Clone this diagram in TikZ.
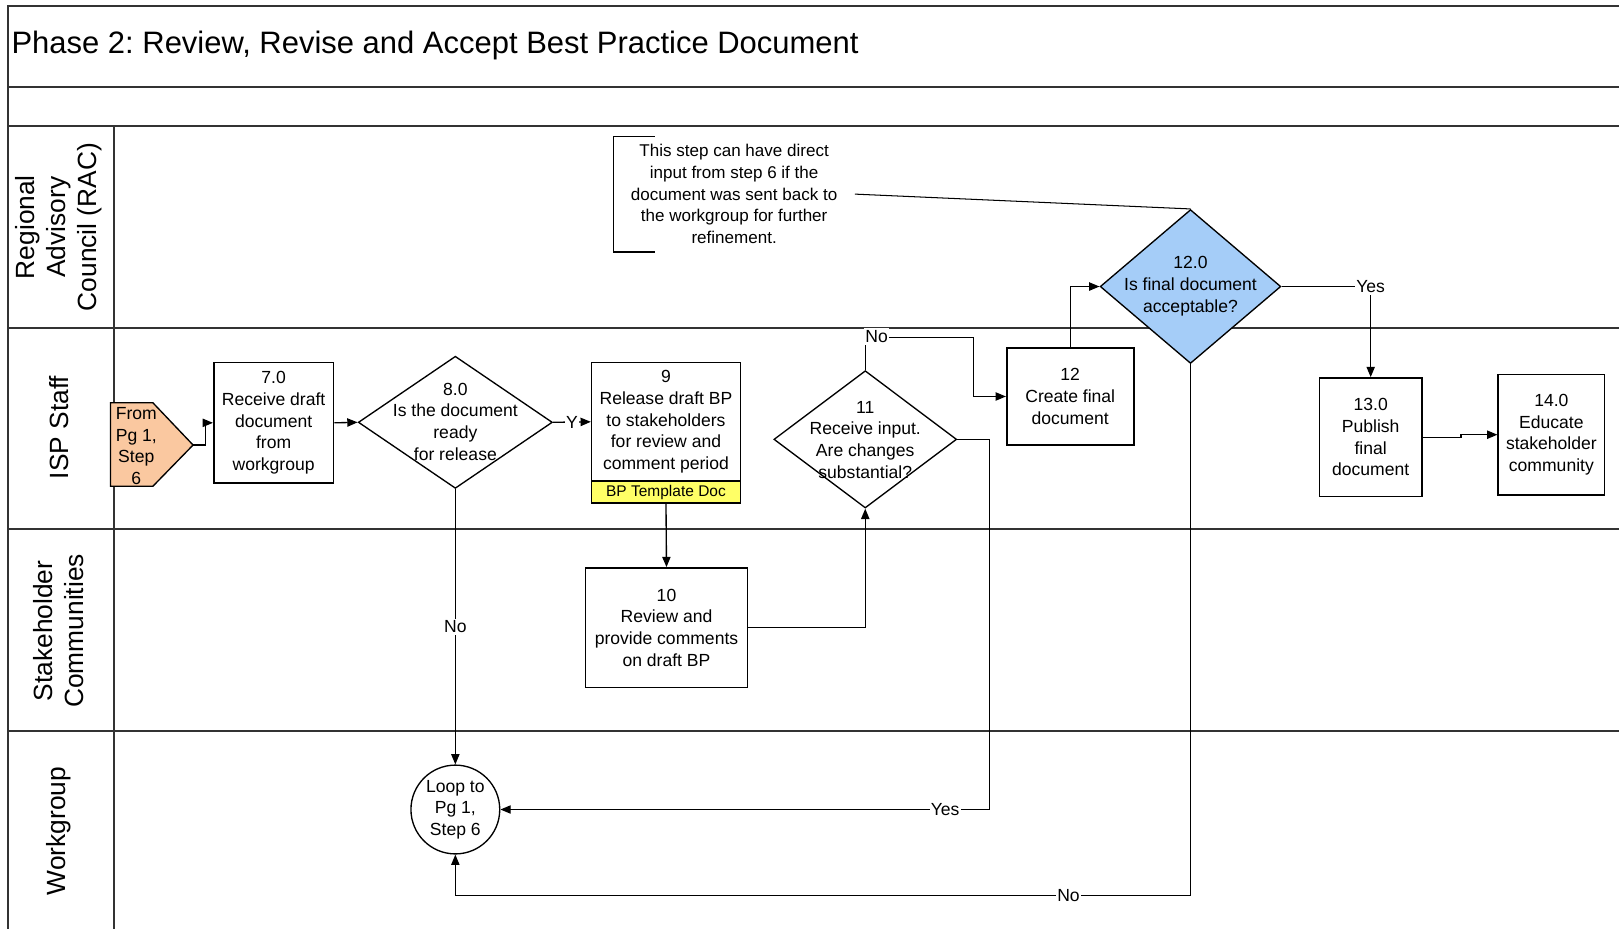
\documentclass[tikz,border=0pt]{standalone}
\usepackage{fontspec}
\setmainfont{Liberation Sans}
\usetikzlibrary{arrows.meta,shapes.geometric}
\definecolor{peach}{RGB}{250,200,160}
\definecolor{bluefill}{RGB}{165,205,248}
\definecolor{tmpl}{RGB}{255,255,102}
\frenchspacing
\begin{document}
\begin{tikzpicture}[x=1pt,y=-1pt,
  frame/.style={line width=1.8pt, draw=black!80},
  conn/.style={line width=1.3pt, -{Triangle[length=10pt,width=8pt]}},
  plainline/.style={line width=1.3pt},
  box/.style={draw, line width=1.5pt, fill=white, align=center, inner sep=0pt, font=\fontsize{17}{21}\selectfont},
  dia/.style={draw, diamond, line width=1.3pt, fill=white, inner sep=0pt},
  dtext/.style={align=center, inner sep=0pt, font=\fontsize{17}{21}\selectfont},
  lbl/.style={fill=white, inner xsep=1pt, inner ysep=2pt, font=\fontsize{17}{21}\selectfont},
  lane/.style={rotate=90, align=center, font=\fontsize{25.5}{30}\selectfont},
]
\path[use as bounding box, fill=white] (0,0) rectangle (1568,900);

% frame and swimlanes
\draw[frame] (1568,6) -- (8,6) -- (8,900);
\draw[frame] (8,84) -- (1568,84);
\draw[frame] (8,122) -- (1568,122);
\draw[frame] (8,318) -- (1568,318);
\draw[frame] (8,512) -- (1568,512);
\draw[frame] (8,708) -- (1568,708);
\draw[frame] (110,122) -- (110,900);

\node[anchor=west, inner sep=0pt, font=\fontsize{30}{36}\selectfont] (title) at (11,44) {Phase 2: Review, Revise and Accept Best Practice Document};

\node[lane] (lrac) at (57,220) {Regional\\Advisory\\Council (RAC)};
\node[lane] (lisp) at (57,414) {ISP Staff};
\node[lane] (lsc) at (57,611) {Stakeholder\\Communities};
\node[lane] (lwg) at (57,805) {Workgroup};

% annotation
\draw[plainline] (634,132) -- (594,132) -- (594,244) -- (634,244);
\node[align=center, inner sep=0pt, font=\fontsize{16.5}{21}\selectfont] (note) at (711,188) {This step can have direct\\input from step 6 if the\\document was sent back to\\the workgroup for further\\refinement.};
\coordinate (notelink) at (828,188);

% off-page connector
\draw[line width=1.3pt, fill=peach] (107,390) -- (148,390) -- (187,431) -- (148,471) -- (107,471) -- cycle;
\coordinate (fromtip) at (187,431);
\node[dtext] (fromtxt) at (132,432) {From\\Pg 1,\\Step\\6};

% process nodes
\node[box, minimum width=116pt, minimum height=117pt] (b7) at (265,409.5) {7.0\\Receive draft\\document\\from\\workgroup};

\node[dia, minimum width=188pt, minimum height=128pt] (d8) at (441,409) {};
\node[dtext] (d8t) at (441,408.5) {8.0\\Is the document\\ready\\for release};

\node[box, minimum width=144pt, minimum height=115pt] (b9) at (645,408.5) {9\\Release draft BP\\to stakeholders\\for review and\\comment period};
\node[box, fill=tmpl, minimum width=144pt, minimum height=21pt, font=\fontsize{15}{18}\selectfont] (b9doc) at (645,476.5) {BP Template Doc};

\node[box, minimum width=157pt, minimum height=116pt] (b10) at (645.5,608) {10\\Review and\\provide comments\\on draft BP};

\node[dia, minimum width=177pt, minimum height=133pt] (d11) at (838,425.5) {};
\node[dtext] (d11t) at (838,426) {11\\Receive input.\\Are changes\\substantial?};

\node[box, minimum width=123pt, minimum height=94pt] (b12) at (1036.5,384) {12\\Create final\\document};

\node[dia, fill=bluefill, minimum width=175pt, minimum height=149pt] (d12) at (1153,277.5) {};
\node[dtext] (d12t) at (1153,277) {12.0\\Is final document\\acceptable?};

\node[box, minimum width=99pt, minimum height=115pt] (b13) at (1327.5,423.5) {13.0\\Publish\\final\\document};
\node[box, minimum width=103pt, minimum height=117pt] (b14) at (1502.5,421) {14.0\\Educate\\stakeholder\\community};

\node[draw, circle, line width=1.3pt, fill=white, minimum size=86pt, inner sep=0pt, align=center, font=\fontsize{17}{21}\selectfont] (loop) at (441,784) {Loop to\\Pg 1,\\Step 6};

% connectors
\draw[line width=1pt] (notelink) -- (d12.north);
\draw[conn] (fromtip) -- (199,431) |- (b7.west);
\draw[conn] (b7.east) -- (d8.west);
\draw[conn] (d8.east) -- node[lbl]{Y} (b9.west);
\draw[conn] (d8.south) -- node[lbl]{No} (loop.north);
\draw[conn] (b9doc.south) -- (b10.north);
\draw[conn] (b10.east) -| (d11.south);
\draw[conn] (d11.north) -- (838,327) -- (943,327) |- (b12.west);
\node[lbl, anchor=west, inner xsep=1pt] (lno11) at (837,326) {No};
\draw[conn] (d11.east) -- (958,425.5) -- (958,784) -- node[lbl, pos=0.09]{Yes} (loop.east);
\draw[conn] (b12.north) |- (d12.west);
\draw[conn] (d12.east) -| node[lbl]{Yes} (b13.north);
\draw[conn] (d12.south) -- (1153,867) -- node[lbl, pos=0.166]{No} (441,867) -- (loop.south);
\draw[conn] (b13.east) -- (1415,423.5) |- (b14.west);
\end{tikzpicture}
\end{document}
